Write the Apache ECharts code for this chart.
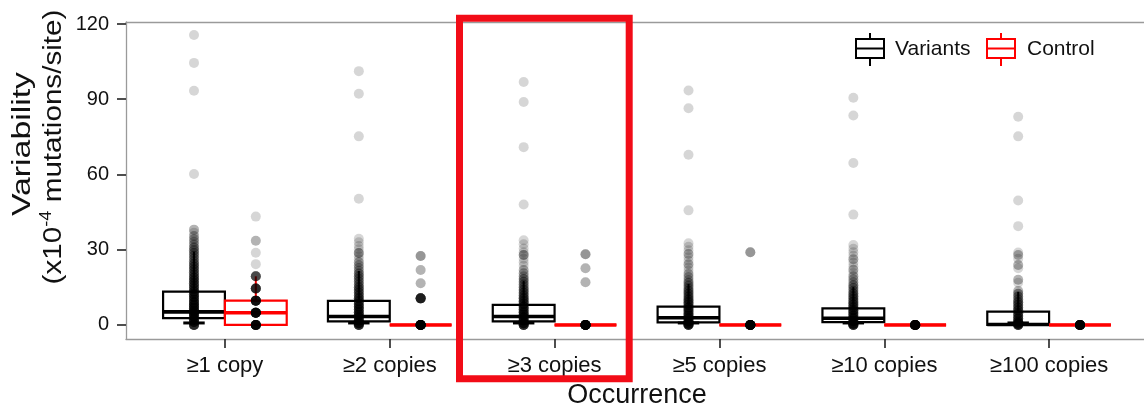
<!DOCTYPE html>
<html>
<head>
<meta charset="utf-8">
<script src="https://cdn.jsdelivr.net/npm/echarts@6/dist/echarts.min.js"></script>
<style>
html,body{margin:0;padding:0;background:#fff;}
#chart{width:1144px;height:413px;}
</style>
</head>
<body>
<div id="chart"></div>
<script>
// ---------- data ----------
const categories = ['≥1 copy', '≥2 copies', '≥3 copies', '≥5 copies', '≥10 copies', '≥100 copies'];
const yTicks = [0, 30, 60, 90, 120];
const seriesNames = ['Variants', 'Control'];

// [whisker low, Q1, median, Q3, whisker high]
const variantsBox = [
  [0, 2.7, 5.2, 13.3, 29.2],
  [0, 1.4, 3.4, 9.6, 21.5],
  [0, 1.4, 3.4, 8.0, 17.5],
  [0, 1.0, 2.9, 7.3, 16.3],
  [0, 1.1, 2.7, 6.6, 15.1],
  [0, 0, 0.2, 5.3, 13.2]
];
const controlBox = [
  [0, 0, 4.85, 9.7, 19.4],
  [0, 0, 0, 0, 0],
  [0, 0, 0, 0, 0],
  [0, 0, 0, 0, 0],
  [0, 0, 0, 0, 0],
  [0, 0, 0, 0, 0]
];

// observations as [value, count] (Variants)
const variantsG1 = [[115.6,1],[104.5,1],[93.4,1],[60.2,1],[38.0,2],[36.8,1],[35.5,2],[34.3,2],[33.2,2],[32.1,2],[30.9,3],[29.8,3],[28.7,3],[27.6,3],[26.5,3],[25.4,3],[24.3,4],[23.2,4],[22.1,4],[21.0,4],[19.9,4],[18.8,5],[17.7,5],[16.6,5],[15.5,5],[14.4,5],[13.3,6],[12.2,6],[11.1,6],[10.0,6],[8.9,7],[7.8,7],[6.7,8],[5.6,8],[4.5,8],[3.4,8],[2.3,8],[1.2,8],[0.0,10]];
const variantsG2 = [[101.2,1],[92.2,1],[75.2,1],[50.3,1],[34.4,1],[33.0,1],[31.5,1],[30.2,1],[28.7,3],[27.4,1],[26.2,1],[25.0,2],[23.8,2],[22.7,2],[21.6,2],[20.5,3],[19.4,3],[18.3,3],[17.2,3],[16.1,3],[15.0,4],[13.9,4],[12.8,4],[11.7,4],[10.6,5],[9.5,5],[8.4,5],[7.3,6],[6.2,6],[5.1,6],[4.0,7],[2.9,7],[1.8,7],[0.7,8],[0.0,10]];
const variantsG3 = [[96.9,1],[88.9,1],[70.9,1],[48.0,1],[33.8,1],[32.2,1],[30.5,1],[29.0,1],[27.9,3],[26.4,1],[25.0,1],[23.6,1],[21.9,2],[20.6,2],[19.4,2],[18.3,3],[17.2,3],[16.1,3],[15.0,3],[13.9,4],[12.8,4],[11.7,4],[10.6,5],[9.5,5],[8.4,5],[7.3,6],[6.2,6],[5.1,6],[4.0,7],[2.9,7],[1.8,7],[0.7,8],[0.0,10]];
const variantsG4 = [[93.5,1],[86.4,1],[67.9,1],[45.7,1],[32.6,1],[31.2,1],[29.8,1],[28.3,2],[27.0,1],[25.6,1],[24.2,2],[22.9,1],[21.6,1],[20.3,2],[19.1,2],[17.9,2],[16.8,3],[15.7,3],[14.6,3],[13.5,4],[12.4,4],[11.3,4],[10.2,5],[9.1,5],[8.0,5],[6.9,6],[5.8,6],[4.7,6],[3.6,7],[2.5,7],[1.4,7],[0.5,8],[0.0,10]];
const variantsG5 = [[90.6,1],[83.5,1],[64.6,1],[44.0,1],[31.9,1],[30.4,1],[29.0,1],[27.6,1],[26.2,2],[24.8,1],[23.4,1],[22.0,2],[20.7,1],[19.4,2],[18.2,2],[17.0,2],[15.8,3],[14.7,3],[13.6,3],[12.5,4],[11.4,4],[10.3,4],[9.2,5],[8.1,5],[7.0,5],[5.9,6],[4.8,6],[3.7,6],[2.6,7],[1.5,7],[0.5,8],[0.0,10]];
const variantsG6 = [[83.0,1],[75.2,1],[49.6,1],[39.4,1],[28.9,1],[27.9,2],[26.4,1],[23.9,2],[22.6,1],[18.0,2],[16.8,1],[13.5,2],[12.4,3],[11.3,3],[10.2,3],[9.1,4],[8.0,4],[6.9,4],[5.8,5],[4.7,5],[3.6,5],[2.5,6],[1.4,6],[0.5,8],[0.0,10]];
const variantsPoints = [variantsG1, variantsG2, variantsG3, variantsG4, variantsG5, variantsG6];

// Control observations as [value, count]
const controlG1 = [[0, 20], [4.85, 20], [9.7, 15], [14.55, 10], [19.4, 7], [24.25, 1], [28.8, 1], [33.6, 2], [43.2, 1]];
const controlG2 = [[0, 30], [10.6, 12], [16.6, 2], [21.9, 2], [27.5, 3]];
const controlG3 = [[0, 30], [17.0, 2], [22.6, 2], [28.2, 3]];
const controlG4 = [[0, 30], [29.0, 3]];
const controlG5 = [[0, 30]];
const controlG6 = [[0, 30]];
const controlPoints = [controlG1, controlG2, controlG3, controlG4, controlG5, controlG6];

// ---------- build ----------
const DODGE = 0.1875;
const FONT = 'Liberation Sans, Arial, sans-serif';
const X_MIN = 0.4, X_MAX = 6.6;

function boxData(boxes, off) {
  return boxes.map((b, i) => [i + 1 + off].concat(b));
}
function countData(groups, off) {
  const out = [];
  groups.forEach((g, i) => g.forEach(([v, n]) => { for (let k = 0; k < n; k++) out.push([i + 1 + off, v]); }));
  return out;
}

function boxRender(color, capHalf) {
  return function (params, api) {
    const x = api.value(0);
    const lo = api.value(1), q1 = api.value(2), med = api.value(3), q3 = api.value(4), hi = api.value(5);
    const tl = api.coord([x - DODGE, q3]);
    const br = api.coord([x + DODGE, q1]);
    const cx = api.coord([x, 0])[0];
    const yLo = api.coord([x, lo])[1];
    const yHi = api.coord([x, hi])[1];
    const yMed = api.coord([x, med])[1];
    const ls = { stroke: color, lineWidth: 2 };
    const children = [
      { type: 'line', shape: { x1: cx, y1: yHi, x2: cx, y2: tl[1] }, style: ls },
      { type: 'line', shape: { x1: cx, y1: br[1], x2: cx, y2: yLo }, style: ls },
      { type: 'rect', shape: { x: tl[0], y: tl[1], width: br[0] - tl[0], height: br[1] - tl[1] }, style: { fill: '#fff', stroke: color, lineWidth: 2.2 } },
      { type: 'line', shape: { x1: tl[0], y1: yMed, x2: br[0], y2: yMed }, style: { stroke: color, lineWidth: 3.6 } }
    ];
    if (capHalf) {
      const a = api.coord([x - capHalf, lo]), b = api.coord([x + capHalf, lo]);
      children.push({ type: 'line', shape: { x1: a[0], y1: a[1] - 2, x2: b[0], y2: b[1] - 2 }, style: { stroke: color, lineWidth: 3 } });
    }
    return { type: 'group', children };
  };
}

const chart = echarts.init(document.getElementById('chart'), null, { renderer: 'canvas' });

const borderLine = { show: true, onZero: false, lineStyle: { color: '#9a9a9a', width: 1.3 } };

const option = {
  animation: false,
  backgroundColor: '#fff',
  grid: { left: 126, top: 22, width: 1022, height: 317, show: false, containLabel: false, outerBoundsMode: 'none' },
  xAxis: [{
    type: 'value', min: X_MIN, max: X_MAX, position: 'bottom',
    axisLine: borderLine,
    splitLine: { show: false },
    axisTick: { show: true, customValues: [1, 2, 3, 4, 5, 6], length: 9, lineStyle: { color: '#222', width: 1.6 } },
    axisLabel: {
      customValues: [1, 2, 3, 4, 5, 6],
      formatter: v => categories[Math.round(v) - 1] || '',
      color: '#111', fontSize: 22, fontFamily: FONT, margin: 16
    },
    name: 'Occurrence', nameLocation: 'middle', nameGap: 42,
    nameTextStyle: { color: '#111', fontSize: 27, fontFamily: FONT }
  }, {
    type: 'value', min: X_MIN, max: X_MAX, position: 'top',
    axisLine: borderLine, axisTick: { show: false }, axisLabel: { show: false }, splitLine: { show: false }
  }],
  yAxis: {
    type: 'value', min: -5.6, max: 120.8,
    axisLine: borderLine,
    splitLine: { show: false },
    axisTick: { show: true, customValues: yTicks, length: 9, lineStyle: { color: '#222', width: 1.6 } },
    axisLabel: { customValues: yTicks, color: '#111', fontSize: 20, fontFamily: FONT, margin: 17 }
  },
  series: [
    { name: seriesNames[0], type: 'custom', renderItem: boxRender('#000', 0.065), data: boxData(variantsBox, -DODGE), encode: { x: 0, y: [1, 2, 3, 4, 5] }, z: 2, silent: true },
    { name: seriesNames[1], type: 'custom', renderItem: boxRender('#ff0000', 0), data: boxData(controlBox, DODGE), encode: { x: 0, y: [1, 2, 3, 4, 5] }, z: 2, silent: true },
    { name: seriesNames[0] + ' points', type: 'scatter', data: countData(variantsPoints, -DODGE), symbolSize: 10, itemStyle: { color: 'rgba(0,0,0,0.2)' }, z: 3, silent: true, large: false },
    { name: seriesNames[1] + ' points', type: 'scatter', data: countData(controlPoints, DODGE), symbolSize: 10, itemStyle: { color: 'rgba(0,0,0,0.2)' }, z: 3, silent: true, large: false }
  ],
  graphic: [
    { type: 'text', x: 23, y: 144, rotation: Math.PI / 2, scaleX: 1.3, style: { text: 'Variability', fontSize: 26, fontFamily: FONT, fill: '#111', align: 'center', verticalAlign: 'middle' } },
    { type: 'text', x: 54, y: 147, rotation: Math.PI / 2, scaleX: 1.14,
      style: { text: '(x10{sup|-4} mutations/site)', fontSize: 26, fontFamily: FONT, fill: '#111', align: 'center', verticalAlign: 'middle', lineHeight: 30,
        rich: { sup: { fontSize: 16, fontFamily: FONT, fill: '#111', verticalAlign: 'top', lineHeight: 30, padding: [0, 0, 12, 0] } } } },
    // legend
    { type: 'group', children: [
      { type: 'line', shape: { x1: 870, y1: 33, x2: 870, y2: 39 }, style: { stroke: '#000', lineWidth: 2 } },
      { type: 'line', shape: { x1: 870, y1: 58, x2: 870, y2: 66 }, style: { stroke: '#000', lineWidth: 2 } },
      { type: 'rect', shape: { x: 856, y: 39, width: 28, height: 19 }, style: { fill: '#fff', stroke: '#000', lineWidth: 2 } },
      { type: 'line', shape: { x1: 856, y1: 48.5, x2: 884, y2: 48.5 }, style: { stroke: '#000', lineWidth: 2 } },
      { type: 'text', x: 895, y: 49, style: { text: seriesNames[0], fontSize: 21, fontFamily: FONT, fill: '#111', align: 'left', verticalAlign: 'middle' } },
      { type: 'line', shape: { x1: 1001, y1: 33, x2: 1001, y2: 39 }, style: { stroke: '#ff0000', lineWidth: 2 } },
      { type: 'line', shape: { x1: 1001, y1: 58, x2: 1001, y2: 66 }, style: { stroke: '#ff0000', lineWidth: 2 } },
      { type: 'rect', shape: { x: 987, y: 39, width: 28, height: 19 }, style: { fill: '#fff', stroke: '#ff0000', lineWidth: 2 } },
      { type: 'line', shape: { x1: 987, y1: 48.5, x2: 1015, y2: 48.5 }, style: { stroke: '#ff0000', lineWidth: 2 } },
      { type: 'text', x: 1027, y: 49, style: { text: seriesNames[1], fontSize: 21, fontFamily: FONT, fill: '#111', align: 'left', verticalAlign: 'middle' } }
    ] },
    // highlight frame
    { type: 'rect', z: 100, shape: { x: 459.5, y: 18.2, width: 169.7, height: 360.5 }, style: { fill: 'none', stroke: '#f20c17', lineWidth: 7 } }
  ]
};
chart.setOption(option);
</script>
</body>
</html>
